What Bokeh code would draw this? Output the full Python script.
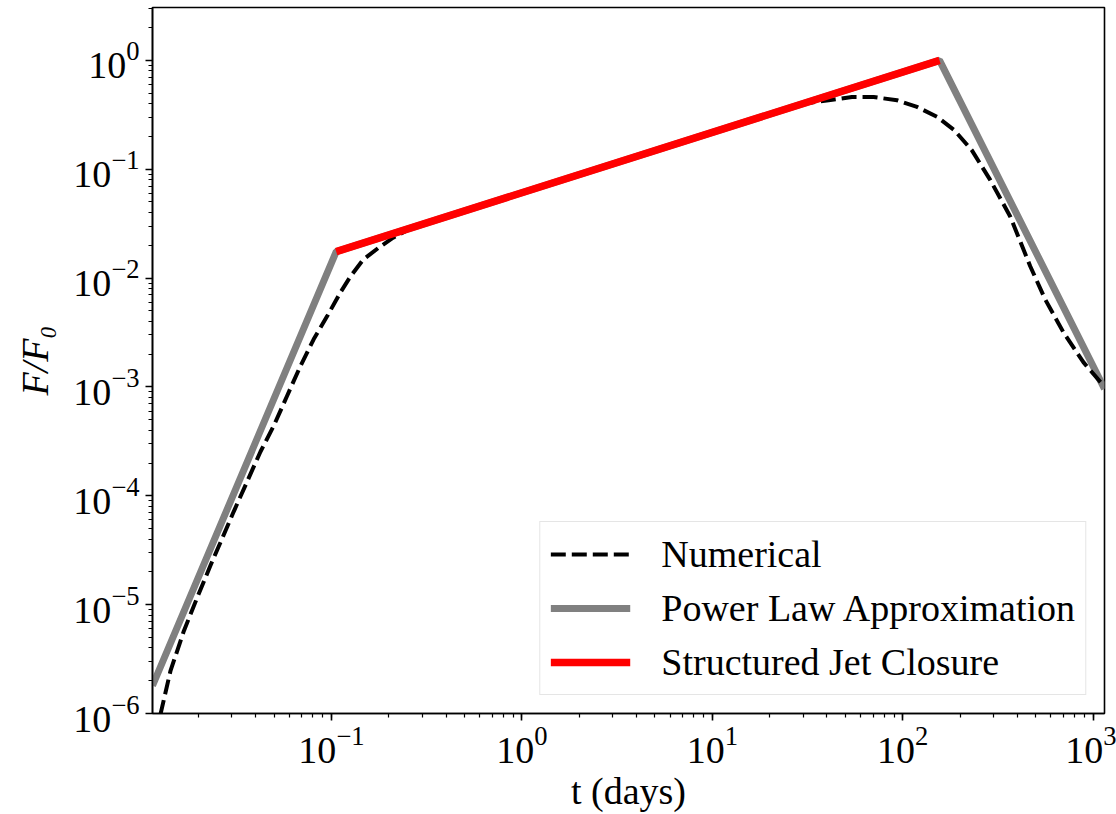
from bokeh.plotting import figure
from bokeh.models import Range1d, LogTicker, Legend, LegendItem
from bokeh.embed import file_html
from bokeh.resources import INLINE

# ---- data ----
t_numerical = [0.01265, 0.01429, 0.0168, 0.0197, 0.0232, 0.0267, 0.0307, 0.0361, 0.0424,
               0.0498, 0.0585, 0.0687, 0.0807, 0.0949, 0.1115, 0.1259, 0.147, 0.177, 0.211,
               0.26, 1.0, 10.0, 30.0, 40.8, 54.1, 70.3, 93.3, 118.8, 151.3, 186.3, 230.7,
               287.7, 366.5, 466.9, 559.5, 698.6, 889.4, 1132.0]
F_numerical = [9.75e-7, 2.46e-6, 5.73e-6, 1.15e-5, 2.30e-5, 4.05e-5, 7.16e-5, 1.35e-4, 2.54e-4,
               4.39e-4, 8.26e-4, 1.55e-3, 2.74e-3, 4.45e-3, 7.38e-3, 0.01035, 0.0148, 0.019, 0.0235,
               0.0285, 0.0608, 0.218, 0.40, 0.43, 0.461, 0.461, 0.43, 0.374, 0.303, 0.229, 0.149,
               0.0798, 0.0368, 0.01285, 6.37e-3, 3.16e-3, 1.68e-3, 1.03e-3]

t_powerlaw = [0.0115, 0.106, 156.0, 1146.0]
F_powerlaw = [1.8e-6, 0.0175, 1.0, 9.6e-4]

t_closure = [0.106, 156.0]
F_closure = [0.0175, 1.0]

x_limits = (0.0115, 1146.0)
y_limits = (1e-6, 3.06)

FONT = "Liberation Serif"

p = figure(width=1116, height=814, x_axis_type="log", y_axis_type="log",
           x_range=Range1d(*x_limits), y_range=Range1d(*y_limits),
           output_backend="svg", toolbar_location=None,
           min_border_left=152, min_border_right=12, min_border_top=7, min_border_bottom=97)

p.xgrid.visible = False
p.ygrid.visible = False
p.outline_line_color = "black"
p.outline_line_width = 1.6
p.background_fill_color = "white"
p.border_fill_color = "white"

p.xaxis.ticker = LogTicker(desired_num_ticks=6, num_minor_ticks=10)
p.yaxis.ticker = LogTicker(desired_num_ticks=10, num_minor_ticks=10)

for ax in (p.xaxis[0], p.yaxis[0]):
    ax.axis_line_color = "black"
    ax.axis_line_width = 1.6
    ax.major_tick_in = 0
    ax.major_tick_out = 7
    ax.minor_tick_in = 0
    ax.minor_tick_out = 4
    ax.major_tick_line_width = 1.6
    ax.minor_tick_line_width = 1.2
    ax.major_label_text_font = FONT
    ax.major_label_text_font_size = "38px"
    ax.major_label_text_color = "black"
    ax.major_label_standoff = 6
    ax.axis_label_text_font = FONT
    ax.axis_label_text_font_size = "38px"
    ax.axis_label_text_color = "black"

p.xaxis.axis_label = "t (days)"
p.xaxis.axis_label_text_font_style = "normal"
p.xaxis.axis_label_standoff = 4
p.yaxis.axis_label = "F/F\u2080"
p.yaxis.axis_label_text_font_style = "italic"
p.yaxis.axis_label_standoff = 14

r_grey = p.line(t_powerlaw, F_powerlaw, line_color="#808080", line_width=7)
r_num = p.line(t_numerical, F_numerical, line_color="black", line_width=4, line_dash="15 6")
r_red = p.line(t_closure, F_closure, line_color="#ff0000", line_width=7.5)

legend = Legend(items=[LegendItem(label="Numerical", renderers=[r_num]),
                       LegendItem(label="Power Law Approximation", renderers=[r_grey]),
                       LegendItem(label="Structured Jet Closure", renderers=[r_red])],
                location="bottom_right", margin=18, padding=10, spacing=10,
                glyph_width=80, glyph_height=42, label_height=42, label_standoff=31,
                label_text_font=FONT, label_text_font_size="38px", label_text_color="black",
                border_line_color="#cccccc", border_line_width=1.6,
                background_fill_color="white", background_fill_alpha=0.8)
p.add_layout(legend)

open("out.html", "w").write(file_html(p, INLINE))
